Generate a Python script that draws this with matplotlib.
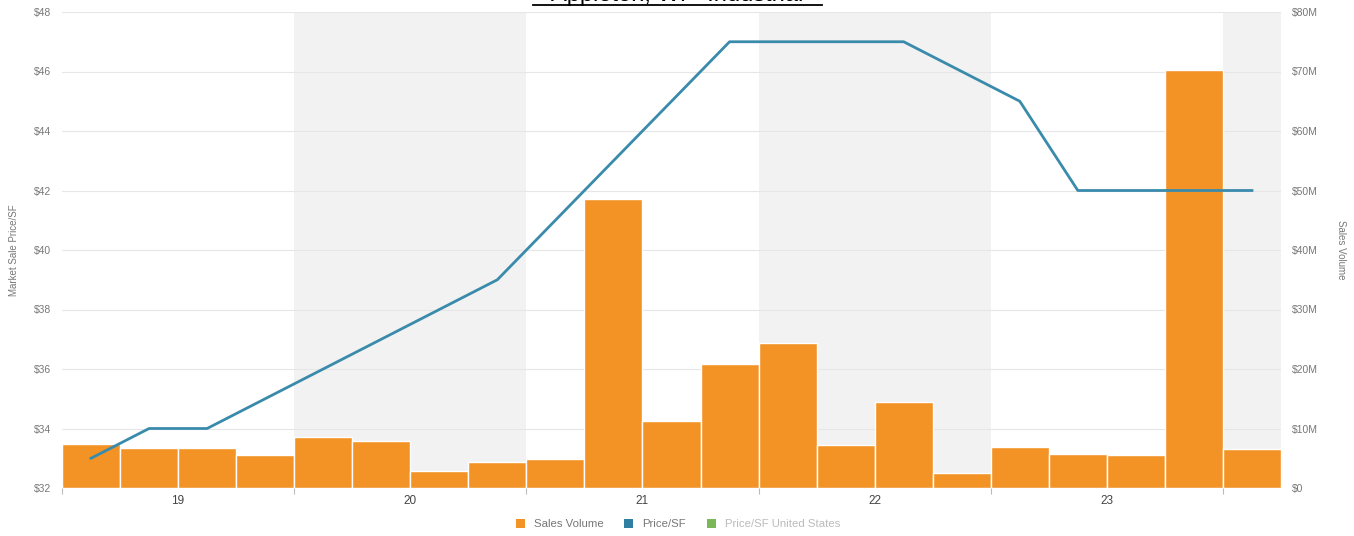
import matplotlib
matplotlib.use("Agg")
import matplotlib.pyplot as plt
from matplotlib.lines import Line2D
from matplotlib.patches import Patch

plt.rcParams['font.family'] = ['Liberation Sans', 'DejaVu Sans']

title = "Appleton, WI - Industrial"
quarters = ["2019 Q1", "2019 Q2", "2019 Q3", "2019 Q4",
            "2020 Q1", "2020 Q2", "2020 Q3", "2020 Q4",
            "2021 Q1", "2021 Q2", "2021 Q3", "2021 Q4",
            "2022 Q1", "2022 Q2", "2022 Q3", "2022 Q4",
            "2023 Q1", "2023 Q2", "2023 Q3", "2023 Q4",
            "2024 Q1"]
sales_volume_m = [7.4, 6.7, 6.7, 5.5, 8.6, 7.9, 2.9, 4.4, 4.9, 48.6, 11.3,
                  20.8, 24.4, 7.2, 14.5, 2.5, 6.9, 5.7, 5.5, 70.3, 6.6]
price_sf = [33, 34, 34, 35, 36, 37, 38, 39, 41, 43, 45, 47, 47, 47, 47,
            46, 45, 42, 42, 42, 42]
year_labels = ["19", "20", "21", "22", "23"]
left_ticks = [32, 34, 36, 38, 40, 42, 44, 46, 48]
right_ticks = [0, 10, 20, 30, 40, 50, 60, 70, 80]

W, H = 1354, 536
fig = plt.figure(figsize=(W / 100, H / 100), dpi=100)
ax = fig.add_axes([62 / W, (H - 488) / H, (1281 - 62) / W, (488 - 12) / H])
ax2 = ax.twinx()

n = len(quarters)
x = list(range(n))

# price axis on top of the volume axis
ax.set_zorder(ax2.get_zorder() + 1)
ax.patch.set_visible(False)

# shaded alternate year bands (on the volume axis, behind the bars)
for start in range(4, n, 8):
    ax2.axvspan(start - 0.5, min(start + 3.5, n - 0.5), color='#f2f2f2', zorder=0, lw=0)

ax.set_ylim(32, 48)
ax.set_yticks(left_ticks)
ax.set_yticklabels([f"${v}" for v in left_ticks])

ax2.set_ylim(0, 80)
ax2.set_yticks(right_ticks)
ax2.set_yticklabels(["$0"] + [f"${v}M" for v in right_ticks[1:]])
ax2.grid(axis='y', color='#e6e6e6', lw=0.8, zorder=0.5)
ax2.set_axisbelow(True)

ax.set_xlim(-0.5, n - 0.5)

ax2.bar(x, sales_volume_m, width=1.0, color='#f39325', edgecolor='white', lw=1.0, zorder=2)
ax.plot(x, price_sf, color='#3a8bab', lw=2.0, zorder=3)

for a in (ax, ax2):
    for s in a.spines.values():
        s.set_visible(False)
    a.tick_params(axis='y', length=0, labelsize=7.5, colors='#777777', pad=8)

# x ticks
centers = [1.5 + 4 * i for i in range(len(year_labels))]
ax.set_xticks(centers)
ax.set_xticklabels(year_labels)
ax.tick_params(axis='x', length=0, labelsize=8.5, colors='#444444', pad=5)
ax.set_xticks([-0.5 + 4 * i for i in range(6)], minor=True)
ax.tick_params(axis='x', which='minor', length=4, color='#bbbbbb', width=0.8)
ax2.tick_params(axis='x', length=0)
ax.axhline(32, color='#cccccc', lw=0.8, zorder=4)

fig.text(14 / W, 1 - 250 / H, "Market Sale Price/SF", rotation=90, ha='center', va='center',
         fontsize=7, color='#777777')
fig.text(1341 / W, 1 - 250 / H, "Sales Volume", rotation=270, ha='center', va='center',
         fontsize=7, color='#777777')

# title, cut off at the top as in the source
fig.text(0.5 + 0.5 / W, 1 - 1.5 / H, title, ha='center', va='baseline', fontsize=17, color='black')
fig.add_artist(Line2D([533 / W, 822 / W], [1 - 4.7 / H, 1 - 4.7 / H], color='black', lw=1.3,
                      transform=fig.transFigure))

handles = [Patch(facecolor='#f39325', edgecolor='none'),
           Patch(facecolor='#2f7fa3', edgecolor='none'),
           Patch(facecolor='#7cb85a', edgecolor='none')]
leg = fig.legend(handles, ["Sales Volume", "Price/SF", "Price/SF United States"],
                 loc='center', bbox_to_anchor=(678 / W, 1 - 524 / H), ncol=3, frameon=False,
                 fontsize=8.2, handlelength=0.8, handleheight=0.8, columnspacing=1.8,
                 handletextpad=0.8)
for t, c in zip(leg.get_texts(), ['#777777', '#777777', '#bbbbbb']):
    t.set_color(c)

fig.savefig("out.png", dpi=100)
